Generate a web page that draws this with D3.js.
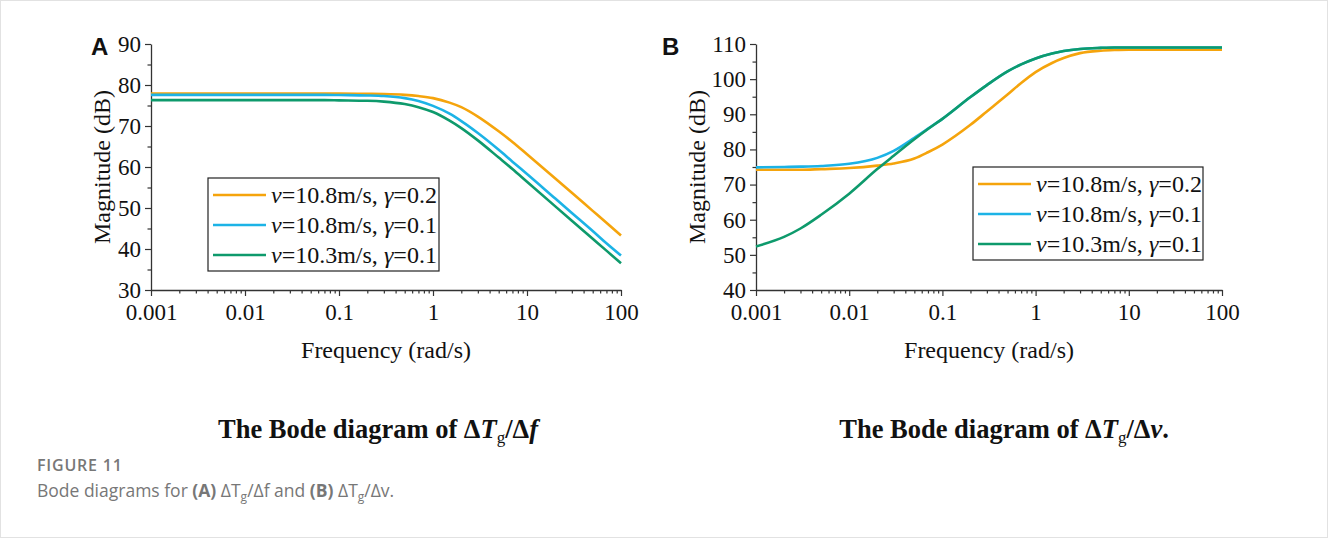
<!DOCTYPE html>
<html>
<head>
<meta charset="utf-8">
<script src="https://cdn.jsdelivr.net/npm/d3@7"></script>
<style>
  body { margin: 0; background: #fff; }
  text { font-family: "Liberation Serif", "Times New Roman", serif; fill: #111; }
  .caption { font-family: "Open Sans", "Noto Sans", sans-serif; fill: #777; }
</style>
</head>
<body>
<div id="chart"></div>
<script>
// frequency points (rad/s)
var freq = [0.001, 0.002, 0.003, 0.005, 0.01, 0.02, 0.03, 0.05, 0.07, 0.1, 0.2, 0.3, 0.5, 0.7,
            1, 1.5, 2, 3, 5, 7, 10, 20, 30, 50, 70, 100];

// Panel A: dTg/df magnitude (dB)
var aOrange = [77.9, 77.9, 77.9, 77.9, 77.9, 77.9, 77.9, 77.9, 77.9, 77.9, 77.85, 77.8, 77.6, 77.3,
               76.8, 75.7, 74.6, 72.3, 68.7, 66.1, 63.1, 57.2, 53.7, 49.3, 46.4, 43.3];
var aBlue   = [77.6, 77.6, 77.6, 77.6, 77.6, 77.6, 77.6, 77.6, 77.6, 77.55, 77.45, 77.3, 76.8, 76.1,
               74.9, 73.0, 71.2, 68.3, 64.2, 61.3, 58.3, 52.3, 48.8, 44.4, 41.4, 38.4];
var aGreen  = [76.3, 76.3, 76.3, 76.3, 76.3, 76.3, 76.3, 76.3, 76.3, 76.25, 76.15, 75.95, 75.35, 74.6,
               73.4, 71.3, 69.5, 66.5, 62.3, 59.5, 56.4, 50.4, 46.9, 42.5, 39.6, 36.5];

// Panel B: dTg/dv magnitude (dB)
var bOrange = [74.2, 74.2, 74.2, 74.4, 74.7, 75.4, 76.0, 77.4, 79.2, 81.4, 87.0, 90.8, 95.6, 98.9,
               102.0, 104.6, 106.0, 107.4, 108.1, 108.3, 108.4, 108.4, 108.4, 108.4, 108.4, 108.4];
var bBlue   = [74.9, 75.0, 75.1, 75.3, 75.9, 77.6, 79.6, 83.3, 85.9, 88.7, 94.9, 98.3, 102.2, 104.2,
               105.9, 107.3, 108.0, 108.6, 108.9, 109.0, 109.0, 109.0, 109.0, 109.0, 109.0, 109.0];
var bGreen  = [52.4, 55.1, 57.5, 61.4, 67.4, 74.4, 78.2, 82.9, 85.8, 88.7, 94.9, 98.3, 102.2, 104.2,
               105.9, 107.3, 108.0, 108.6, 108.9, 109.0, 109.0, 109.0, 109.0, 109.0, 109.0, 109.0];

var seriesNames = ["10.8m/s, ", "10.8m/s, ", "10.3m/s, "];
var gammaVals = ["0.2", "0.1", "0.1"];
var colors = ["#F5A40C", "#1CB3E6", "#0E9A6C"];

var xTicks = [0.001, 0.01, 0.1, 1, 10, 100];
var xTickLabels = ["0.001", "0.01", "0.1", "1", "10", "100"];

var svg = d3.select("#chart").append("svg")
  .attr("width", 1328)
  .attr("height", 538);

// light frame
svg.append("rect")
  .attr("x", 0.5).attr("y", 0.5)
  .attr("width", 1327).attr("height", 537)
  .attr("fill", "none").attr("stroke", "#e2e2e2");

// minor log ticks 2..9 per decade
var minorX = [];
for (var e = -3; e < 2; e++) {
  for (var m = 2; m < 10; m++) minorX.push(m * Math.pow(10, e));
}

function drawPanel(opt) {
  var x = d3.scaleLog().domain([0.001, 100]).range([opt.left, opt.right]);
  var y = d3.scaleLinear().domain(opt.yDomain).range([opt.bottom, opt.top]);
  var g = svg.append("g");

  // minor ticks
  g.append("g")
    .attr("transform", `translate(0, ${opt.bottom})`)
    .call(d3.axisBottom(x).tickValues(minorX).tickSize(3.5).tickFormat(""))
    .call(s => s.select(".domain").remove());
  var minorY = d3.range(opt.yDomain[0] + 5, opt.yDomain[1], 10);
  g.append("g")
    .attr("transform", `translate(${opt.left}, 0)`)
    .call(d3.axisLeft(y).tickValues(minorY).tickSize(3.5).tickFormat(""))
    .call(s => s.select(".domain").remove());

  // major axes
  g.append("g")
    .attr("transform", `translate(0, ${opt.bottom})`)
    .call(d3.axisBottom(x).tickValues(xTicks).tickSize(6).tickSizeOuter(0).tickPadding(8)
      .tickFormat((d, i) => xTickLabels[i]));
  g.append("g")
    .attr("transform", `translate(${opt.left}, 0)`)
    .call(d3.axisLeft(y).tickValues(opt.yTicks).tickSize(6).tickSizeOuter(0).tickPadding(4));

  g.selectAll(".tick line").attr("stroke", "#333").attr("stroke-width", 1.2);
  g.selectAll(".domain").attr("stroke", "#333").attr("stroke-width", 1.3);
  g.selectAll(".tick text")
    .style("font-family", "'Liberation Serif', serif")
    .style("font-size", "23px")
    .attr("fill", "#111");

  // curves
  var line = d3.line()
    .x((d, i) => x(freq[i]))
    .y(d => y(d))
    .curve(d3.curveMonotoneX);
  opt.series.forEach(function(s, i) {
    g.append("path")
      .datum(s)
      .attr("d", line)
      .attr("fill", "none")
      .attr("stroke", colors[i])
      .attr("stroke-width", 2.6);
  });

  // axis labels
  g.append("text")
    .attr("transform", `translate(${opt.yLabelX}, ${(opt.top + opt.bottom) / 2}) rotate(-90)`)
    .attr("text-anchor", "middle")
    .style("font-size", "24px")
    .text("Magnitude (dB)");
  g.append("text")
    .attr("x", (opt.left + opt.right) / 2)
    .attr("y", opt.bottom + 68)
    .attr("text-anchor", "middle")
    .style("font-size", "24px")
    .text("Frequency (rad/s)");

  // panel letter
  g.append("text")
    .attr("x", opt.letterX)
    .attr("y", 55)
    .style("font-family", "'Liberation Sans', Arial, sans-serif")
    .style("font-weight", "bold")
    .style("font-size", "24px")
    .text(opt.letter);

  // legend
  var lg = g.append("g").attr("transform", `translate(${opt.legX}, ${opt.legY})`);
  lg.append("rect")
    .attr("width", opt.legW).attr("height", 93)
    .attr("fill", "#fff").attr("stroke", "#222").attr("stroke-width", 1.2);
  seriesNames.forEach(function(name, i) {
    var ry = 17 + i * 30;
    lg.append("line")
      .attr("x1", 5).attr("x2", 58)
      .attr("y1", ry).attr("y2", ry)
      .attr("stroke", colors[i]).attr("stroke-width", 2.6);
    var t = lg.append("text")
      .attr("x", 63).attr("y", ry + 8)
      .style("font-size", "24px");
    t.append("tspan").style("font-style", "italic").text("v");
    t.append("tspan").text("=" + name);
    t.append("tspan").style("font-style", "italic").text("\u03b3");
    t.append("tspan").text("=" + gammaVals[i]);
  });

  // panel title
  var tt = g.append("text")
    .attr("x", opt.titleX)
    .attr("y", 438)
    .attr("text-anchor", "middle")
    .style("font-size", "26.5px")
    .style("font-weight", "bold");
  tt.append("tspan").text("The Bode diagram of \u0394");
  tt.append("tspan").style("font-style", "italic").text("T");
  tt.append("tspan").attr("dy", 5).style("font-size", "17px").style("font-weight", "normal").text("g");
  tt.append("tspan").attr("dy", -5).text("/\u0394");
  tt.append("tspan").style("font-style", "italic").text(opt.titleVar);
  tt.append("tspan").text(opt.titleEnd);
}

drawPanel({
  left: 151, right: 621, top: 44, bottom: 290,
  yDomain: [30, 90], yTicks: [30, 40, 50, 60, 70, 80, 90],
  series: [aOrange, aBlue, aGreen],
  letter: "A", letterX: 91, yLabelX: 110,
  legX: 208, legY: 178, legW: 231,
  titleX: 378, titleVar: "f", titleEnd: ""
});

drawPanel({
  left: 756, right: 1222, top: 44, bottom: 290,
  yDomain: [40, 110], yTicks: [40, 50, 60, 70, 80, 90, 100, 110],
  series: [bOrange, bBlue, bGreen],
  letter: "B", letterX: 662, yLabelX: 705,
  legX: 973, legY: 167, legW: 230,
  titleX: 1004, titleVar: "v", titleEnd: "."
});

// figure caption
svg.append("text")
  .attr("class", "caption")
  .attr("x", 37).attr("y", 471)
  .style("font-size", "16px")
  .style("font-weight", "600")
  .style("letter-spacing", "0.8px")
  .text("FIGURE 11");
var cap = svg.append("text")
  .attr("class", "caption")
  .attr("x", 37).attr("y", 497)
  .style("font-size", "17.5px");
cap.append("tspan").text("Bode diagrams for ");
cap.append("tspan").style("font-weight", "bold").text("(A)");
cap.append("tspan").text(" \u0394T");
cap.append("tspan").attr("dy", 4).style("font-size", "12px").text("g");
cap.append("tspan").attr("dy", -4).text("/\u0394f and ");
cap.append("tspan").style("font-weight", "bold").text("(B)");
cap.append("tspan").text(" \u0394T");
cap.append("tspan").attr("dy", 4).style("font-size", "12px").text("g");
cap.append("tspan").attr("dy", -4).text("/\u0394v.");
</script>
</body>
</html>
